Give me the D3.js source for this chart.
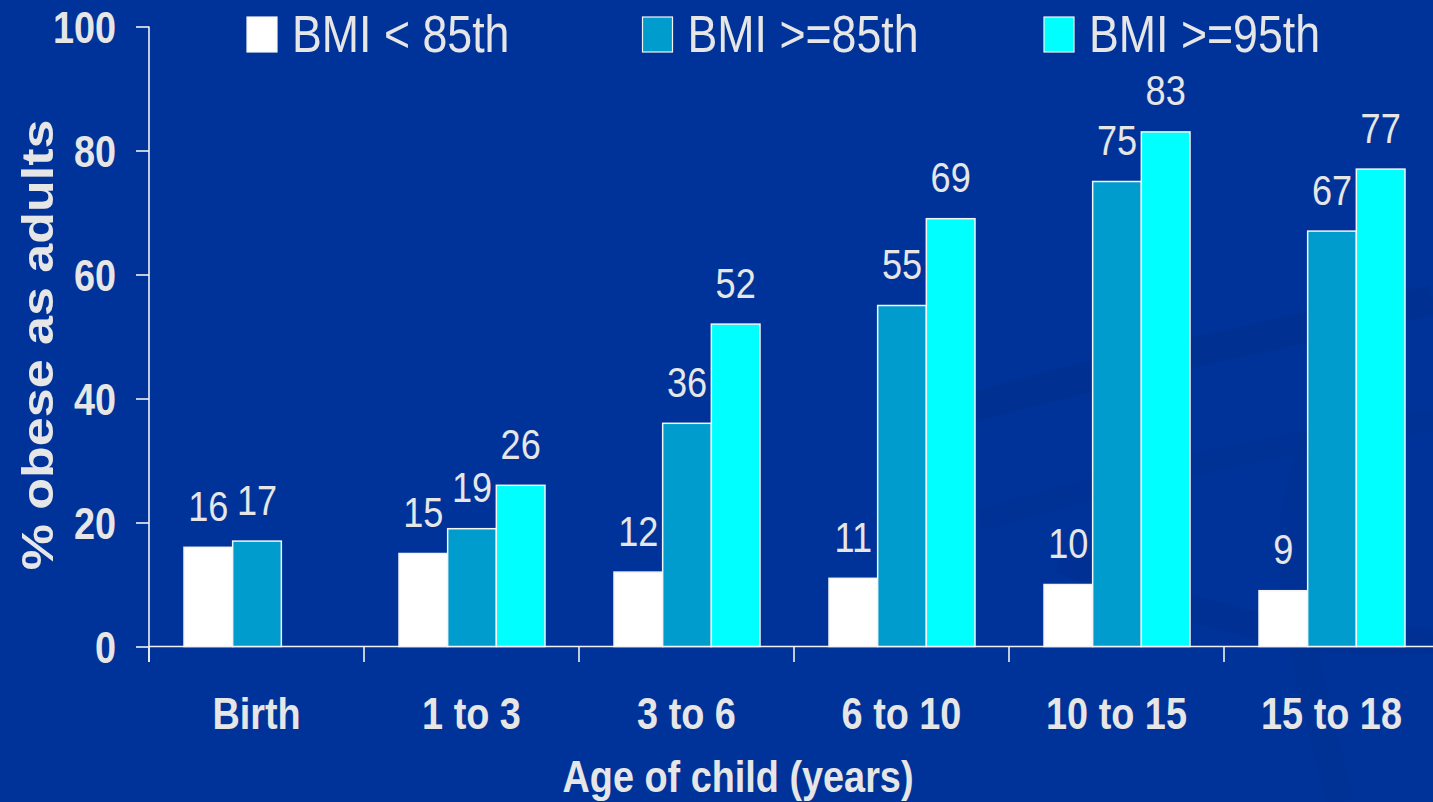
<!DOCTYPE html>
<html>
<head>
<meta charset="utf-8">
<script src="https://cdn.jsdelivr.net/npm/d3@7"></script>
<style>
  html, body { margin: 0; padding: 0; background: #003399; overflow: hidden; }
  svg { display: block; }
  text { font-family: "Liberation Sans", Arial, Helvetica, sans-serif; fill: #e6e6e6; }
</style>
</head>
<body>
<svg id="chart" width="1433" height="802"></svg>
<script>
// Age groups and the share of children who became obese adults, by BMI percentile at that age
const categories = ["Birth", "1 to 3", "3 to 6", "6 to 10", "10 to 15", "15 to 18"];
const seriesNames = ["BMI < 85th", "BMI >=85th", "BMI >=95th"];
const below85 = [16, 15, 12, 11, 10, 9];
const atLeast85 = [17, 19, 36, 55, 75, 67];
const atLeast95 = [null, 26, 52, 69, 83, 77];
const yTicks = [0, 20, 40, 60, 80, 100];
const seriesColors = ["#ffffff", "#009ccd", "#00ffff"];

const W = 1433, H = 802;
const SX = 0.86; // horizontal squeeze applied to all lettering
const svg = d3.select("#chart");

// background with faint swirl bands in the lower right
svg.append("rect").attr("width", W).attr("height", H).attr("fill", "#003399");
const swirl = svg.append("g").attr("fill", "none");
swirl.append("path")
  .attr("d", "M 900 430 C 1050 380, 1250 340, 1433 300")
  .attr("stroke", "#002f8c").attr("stroke-width", 30).attr("opacity", 0.5);
swirl.append("path")
  .attr("d", "M 980 520 C 1150 470, 1300 440, 1433 420")
  .attr("stroke", "#002f8c").attr("stroke-width", 22).attr("opacity", 0.4);
swirl.append("path")
  .attr("d", "M 1060 560 C 1200 620, 1330 650, 1433 640")
  .attr("stroke", "#002e8a").attr("stroke-width", 26).attr("opacity", 0.4);
swirl.append("path")
  .attr("d", "M 1320 440 C 1270 520, 1300 650, 1340 802")
  .attr("stroke", "#002f8c").attr("stroke-width", 28).attr("opacity", 0.4);

const series = [below85, atLeast85, atLeast95];
const rows = categories.map((c, i) => ({
  cat: c,
  vals: series.map((s, k) => ({ k, v: s[i] }))
}));

// scales
const x0 = d3.scaleBand().domain(categories).range([149, 149 + 6 * 215]);
const x1 = d3.scaleBand().domain([0, 1, 2]).range([35, 181]);
const y = d3.scaleLinear().domain([0, 100]).range([646.5, 26.5]);

// y axis
const yAxis = svg.append("g").attr("transform", "translate(149,0)")
  .call(d3.axisLeft(y).tickValues(yTicks).tickSize(13).tickPadding(20));
yAxis.select(".domain").remove();
yAxis.selectAll(".tick line").attr("stroke", "#f2f2f2").attr("stroke-width", 1.6);
yAxis.selectAll(".tick text")
  .attr("x", -33 / SX)
  .attr("dy", null)
  .attr("y", 15.5)
  .attr("transform", `scale(${SX},1)`)
  .attr("fill", "#e6e6e6")
  .style("font-size", "44px").style("font-weight", "bold")
  .style("font-family", '"Liberation Sans", Arial, sans-serif');
svg.append("line")
  .attr("x1", 149).attr("x2", 149)
  .attr("y1", y(100)).attr("y2", 662)
  .attr("stroke", "#f2f2f2").attr("stroke-width", 1.6);

// x axis
const xAxis = svg.append("g").attr("transform", `translate(0,${y(0)})`)
  .call(d3.axisBottom(x0).tickSize(0).tickFormat(""));
xAxis.select(".domain").remove();
svg.append("line")
  .attr("x1", 149).attr("x2", W)
  .attr("y1", y(0)).attr("y2", y(0))
  .attr("stroke", "#f2f2f2").attr("stroke-width", 1.6);
svg.append("g").selectAll("line")
  .data(categories)
  .join("line")
  .attr("x1", d => x0(d)).attr("x2", d => x0(d))
  .attr("y1", y(0)).attr("y2", 662)
  .attr("stroke", "#f2f2f2").attr("stroke-width", 1.6);

// bars
const groups = svg.append("g").selectAll("g")
  .data(rows)
  .join("g")
  .attr("transform", d => `translate(${x0(d.cat)},0)`);

groups.selectAll("rect")
  .data(d => d.vals.filter(e => e.v != null))
  .join("rect")
  .attr("x", d => x1(d.k))
  .attr("width", x1.bandwidth())
  .attr("y", d => y(d.v))
  .attr("height", d => y(0) - y(d.v))
  .attr("fill", d => seriesColors[d.k])
  .attr("stroke", "#f4f4f4")
  .attr("stroke-width", 1.5);

// value labels
groups.selectAll("text.val")
  .data(d => d.vals.filter(e => e.v != null))
  .join("text")
  .attr("class", "val")
  .attr("text-anchor", "middle")
  .attr("transform", d => `translate(${x1(d.k) + x1.bandwidth() / 2},${y(d.v) - 26.5}) scale(${SX},1)`)
  .style("font-size", "42px")
  .text(d => d.v);

// category labels
svg.append("g").selectAll("text")
  .data(categories)
  .join("text")
  .attr("text-anchor", "middle")
  .attr("transform", d => `translate(${x0(d) + x0.bandwidth() / 2},729) scale(${SX},1)`)
  .style("font-size", "44px").style("font-weight", "bold")
  .text(d => d);

// axis titles
svg.append("text")
  .attr("text-anchor", "middle")
  .attr("transform", `translate(738,792) scale(${SX},1)`)
  .style("font-size", "44px").style("font-weight", "bold")
  .text("Age of child (years)");

svg.append("text")
  .attr("text-anchor", "middle")
  .attr("transform", `translate(53,345) scale(${SX},1) rotate(-90)`)
  .style("font-size", "52px").style("font-weight", "bold")
  .text("% obese as adults");

// legend
const legendX = [247, 642.5, 1044];
const legend = svg.append("g").selectAll("g")
  .data(seriesNames)
  .join("g")
  .attr("transform", (d, i) => `translate(${legendX[i]},0)`);
legend.append("rect")
  .attr("x", 0).attr("y", 17)
  .attr("width", 30).attr("height", 35)
  .attr("fill", (d, i) => seriesColors[i])
  .attr("stroke", "#f4f4f4").attr("stroke-width", 1.2);
legend.append("text")
  .attr("transform", `translate(45,52) scale(${SX},1)`)
  .style("font-size", "52px")
  .text(d => d);
</script>
</body>
</html>
